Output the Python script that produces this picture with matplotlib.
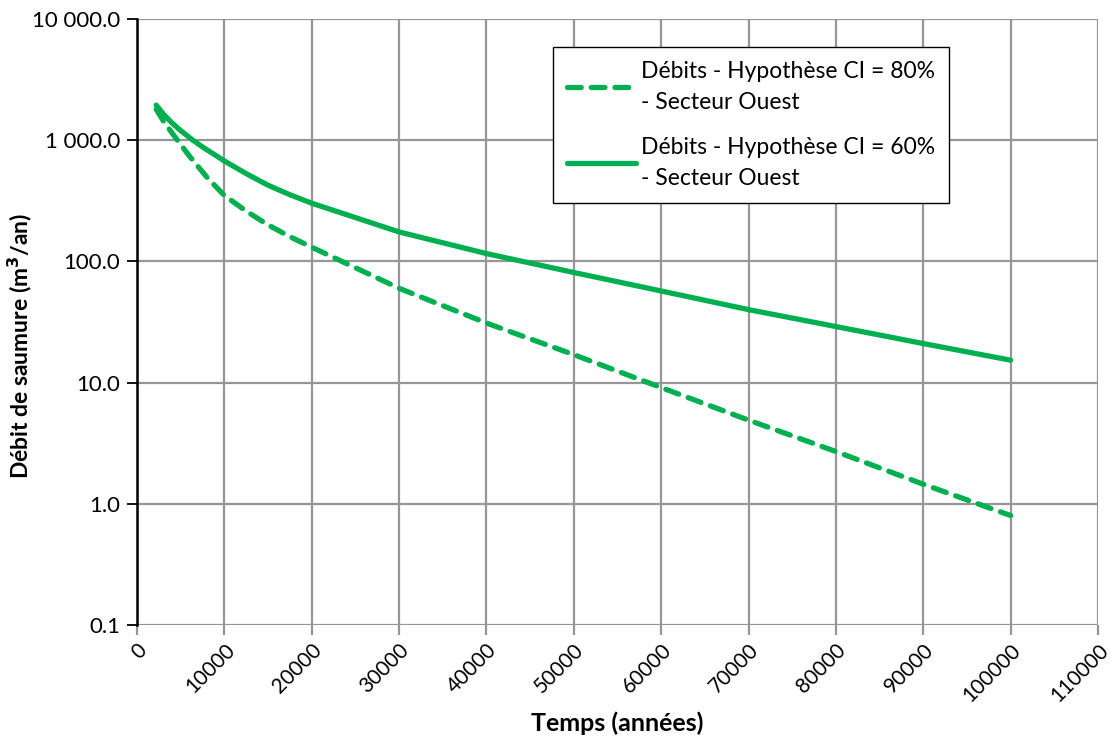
import matplotlib.pyplot as plt
from matplotlib.ticker import FixedLocator, FuncFormatter

plt.rcParams['font.family'] = ['Lato', 'DejaVu Sans']

# temps (années)
temps_80 = [2200, 3000, 4000, 5000, 6000, 8000, 10000, 12500, 15000, 17500,
            20000, 30000, 40000, 50000, 60000, 70000, 80000, 90000, 100000]
# débits CI = 80% (m3/an)
debit_80 = [1800, 1450, 1150, 920, 740, 495, 350, 260, 200, 160,
            131, 60, 31, 17, 9.1, 4.9, 2.7, 1.45, 0.8]

temps_60 = [2200, 3000, 4000, 5000, 6400, 7500, 10000, 12500, 15000, 17500,
            20000, 30000, 40000, 50000, 60000, 70000, 80000, 90000, 100000]
# débits CI = 60% (m3/an)
debit_60 = [1950, 1650, 1390, 1200, 1000, 880, 674, 530, 425, 355,
            302, 175, 116, 81, 57, 40, 29, 21, 15.3]

label_80 = 'Débits - Hypothèse CI = 80%\n- Secteur Ouest'
label_60 = 'Débits - Hypothèse CI = 60%\n- Secteur Ouest'
green = '#00B050'

fig = plt.figure(figsize=(11.1, 7.42), dpi=100)
ax = fig.add_axes([0.1234, 0.1577, 0.8658, 0.8167])

ax.plot(temps_80, debit_80, color=green, lw=3.8, dashes=(2.6, 1.9),
        dash_capstyle='round', label=label_80)
ax.plot(temps_60, debit_60, color=green, lw=3.8, solid_capstyle='round',
        label=label_60)

ax.set_yscale('log')
ax.set_ylim(0.1, 10000)
ax.set_xlim(0, 110000)
ax.xaxis.set_major_locator(FixedLocator(range(0, 110001, 10000)))
ax.yaxis.set_major_locator(FixedLocator([0.1, 1, 10, 100, 1000, 10000]))
ax.yaxis.set_minor_locator(FixedLocator([]))
ax.yaxis.set_major_formatter(FuncFormatter(lambda v, p: f'{v:,.1f}'.replace(',', ' ')))

ax.grid(True, color='#969696', lw=1.6)
ax.set_axisbelow(True)
for s in ['top', 'right', 'bottom']:
    ax.spines[s].set_visible(False)
ax.spines['left'].set_color('black')
ax.spines['left'].set_linewidth(1.8)

ax.tick_params(axis='y', direction='out', length=7, width=1.3, colors='black',
               labelsize=16, pad=5)
ax.tick_params(axis='x', direction='out', length=7, width=1.6, color='#969696',
               labelcolor='black', labelsize=15, pad=4)
for lab in ax.get_xticklabels():
    lab.set_rotation(45)
    lab.set_ha('right')
    lab.set_va('top')
    lab.set_rotation_mode('anchor')

ax.set_xlabel('Temps (années)', fontsize=18, fontweight='bold', labelpad=4)
ax.set_ylabel('Débit de saumure (m$^{\\mathbf{3}}$/an)', fontsize=16.5, fontweight='bold')
ax.yaxis.set_label_coords(-0.107, 0.46)

leg = ax.legend(loc='upper left', bbox_to_anchor=(0.433, 0.954), fontsize=16.5,
                frameon=True, fancybox=False, edgecolor='black', framealpha=1,
                handlelength=3.0, handletextpad=0.25, borderpad=0.6,
                labelspacing=1.05, borderaxespad=0)
leg.get_frame().set_linewidth(1.0)
for t in leg.get_texts():
    t.set_linespacing(1.6)

fig.savefig('out.png', dpi=100)
